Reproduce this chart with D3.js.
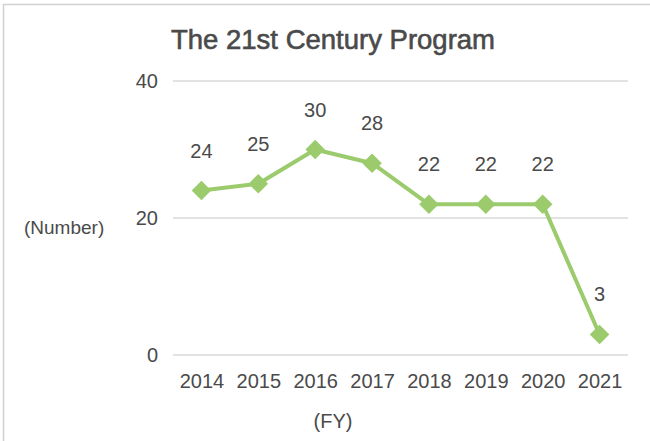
<!DOCTYPE html>
<html>
<head>
<meta charset="utf-8">
<script src="https://cdn.jsdelivr.net/npm/d3@7"></script>
<style>
  html, body { margin: 0; padding: 0; background: #fff; }
  svg { display: block; font-family: "Liberation Sans", Arial, sans-serif; }
</style>
</head>
<body>
<div id="chart"></div>
<script>
// values
const years = ["2014", "2015", "2016", "2017", "2018", "2019", "2020", "2021"];
const counts = [24, 25, 30, 28, 22, 22, 22, 3];
const yTicks = [0, 20, 40];

const width = 650, height = 441;
const textColor = "#4a4a4a";
const green = "#9BCB6C";

const svg = d3.select("#chart").append("svg")
  .attr("width", width)
  .attr("height", height);

// chart frame (right and bottom edges are cut off in the picture)
svg.append("rect")
  .attr("x", 3.5).attr("y", 4.5)
  .attr("width", 700).attr("height", 500)
  .attr("fill", "none")
  .attr("stroke", "#d0d0d0")
  .attr("stroke-width", 1.5);

const x = d3.scalePoint()
  .domain(years)
  .range([173, 628])
  .padding(0.5);

const y = d3.scaleLinear()
  .domain([0, 40])
  .range([355, 81]);

// gridlines
svg.append("g")
  .selectAll("line")
  .data(yTicks)
  .join("line")
  .attr("x1", 173).attr("x2", 628)
  .attr("y1", d => y(d)).attr("y2", d => y(d))
  .attr("stroke", "#d9d9d9")
  .attr("stroke-width", 1.5);

// y axis, no domain line
const yAxis = svg.append("g")
  .attr("transform", "translate(173,0)")
  .call(d3.axisLeft(y).tickValues(yTicks).tickSize(0).tickPadding(15));
yAxis.select(".domain").remove();
yAxis.selectAll("text")
  .attr("fill", textColor)
  .style("font-size", "20px")
  .style("font-family", "'Liberation Sans', Arial, sans-serif");

// x axis
const xAxis = svg.append("g")
  .attr("transform", "translate(0,355)")
  .call(d3.axisBottom(x).tickSize(0).tickPadding(19));
xAxis.select(".domain").remove();
xAxis.selectAll("text")
  .attr("fill", textColor)
  .style("font-size", "20px")
  .style("font-family", "'Liberation Sans', Arial, sans-serif");

// title
svg.append("text")
  .attr("x", 333).attr("y", 49)
  .attr("text-anchor", "middle")
  .attr("fill", textColor)
  .attr("stroke", textColor)
  .attr("stroke-width", 0.6)
  .style("font-size", "27.5px")
  .text("The 21st Century Program");

// axis titles
svg.append("text")
  .attr("x", 24).attr("y", 234)
  .attr("fill", textColor)
  .style("font-size", "19px")
  .text("(Number)");

svg.append("text")
  .attr("x", 333).attr("y", 428)
  .attr("text-anchor", "middle")
  .attr("fill", textColor)
  .style("font-size", "20px")
  .text("(FY)");

const pts = years.map((yr, i) => ({ year: yr, value: counts[i] }));

// line
svg.append("path")
  .datum(pts)
  .attr("fill", "none")
  .attr("stroke", green)
  .attr("stroke-width", 4)
  .attr("stroke-linejoin", "round")
  .attr("d", d3.line().x(d => x(d.year)).y(d => y(d.value)));

// diamond markers
svg.append("g")
  .selectAll("path")
  .data(pts)
  .join("path")
  .attr("d", d3.symbol(d3.symbolSquare, 190))
  .attr("transform", d => `translate(${x(d.year)},${y(d.value)}) rotate(45)`)
  .attr("fill", green);

// data labels
svg.append("g")
  .selectAll("text")
  .data(pts)
  .join("text")
  .attr("x", d => x(d.year))
  .attr("y", d => y(d.value) - 33)
  .attr("text-anchor", "middle")
  .attr("fill", textColor)
  .style("font-size", "20px")
  .text(d => d.value);
</script>
</body>
</html>
